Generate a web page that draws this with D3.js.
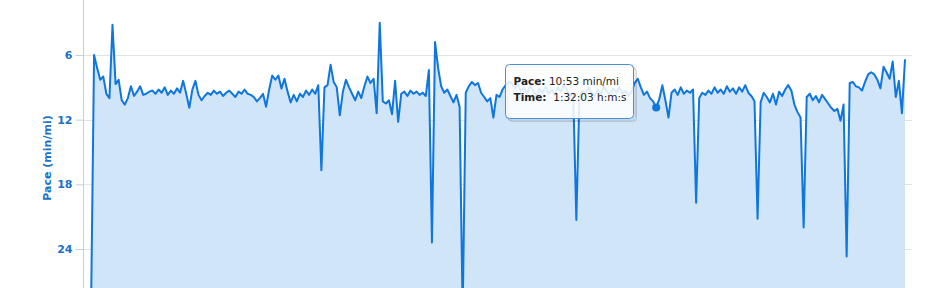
<!DOCTYPE html>
<html>
<head>
<meta charset="utf-8">
<script src="https://cdn.jsdelivr.net/npm/d3@7"></script>
<style>
    html, body { margin: 0; padding: 0; background: #fff; }
    svg { display: block; font-family: "DejaVu Sans", sans-serif; }
</style>
</head>
<body>
<div id="chart"></div>
<script>
// Pace samples (min/mi), one every 30 seconds from the start of the run
const sampleInterval = 30;
const paceValues = [
    30, 6.0, 7.2, 8.3, 8.0, 9.6, 10.0, 3.2, 8.7, 8.3,
    10.2, 10.6, 10.0, 8.9, 9.8, 9.4, 8.9, 9.7, 9.6, 9.4,
    9.3, 9.6, 9.2, 9.5, 9.0, 9.7, 9.3, 9.6, 9.1, 9.5,
    8.4, 9.6, 10.9, 9.2, 8.4, 9.7, 10.2, 9.8, 9.5, 9.7,
    9.3, 9.6, 9.4, 9.8, 9.5, 9.3, 9.6, 9.9, 9.4, 9.6,
    9.2, 9.6, 9.7, 9.9, 10.3, 10.0, 9.6, 10.8, 9.2, 7.9,
    8.3, 7.9, 9.1, 8.2, 9.4, 10.4, 9.7, 10.3, 9.6, 9.9,
    9.3, 9.7, 9.2, 9.6, 8.8, 16.7, 9.0, 8.8, 6.9, 8.5,
    9.0, 11.6, 9.4, 8.3, 9.0, 9.6, 10.2, 9.4, 10.0, 8.9,
    8.0, 8.6, 8.2, 11.4, 3.0, 10.3, 10.5, 10.2, 11.5, 8.4,
    12.2, 9.6, 9.4, 9.8, 9.3, 9.6, 9.4, 9.7, 9.5, 9.8,
    7.4, 23.4, 4.8, 7.2, 8.9, 9.5, 9.2, 9.8, 10.4, 9.7,
    10.8, 30, 9.5, 8.9, 8.5, 8.8, 8.6, 9.5, 9.9, 10.3,
    10.0, 11.8, 9.7, 9.9, 9.2, 8.8, 8.5, 8.6, 9.1, 8.7,
    9.4, 9.0, 9.6, 8.8, 9.3, 9.8, 9.1, 9.5, 8.9, 9.6,
    9.2, 9.7, 9.0, 9.4, 8.7, 9.3, 9.8, 9.6, 21.3, 9.9,
    9.3, 9.6, 9.0, 9.5, 9.8, 9.2, 9.6, 8.9, 9.4, 9.7,
    9.1, 9.5, 9.0, 9.6, 9.3, 9.8, 9.4, 8.6, 8.2, 9.0,
    9.7, 9.4, 10.0, 10.3, 10.88, 10.1, 8.8, 10.2, 11.8, 9.5,
    9.2, 9.7, 9.0, 9.6, 9.3, 9.5, 9.2, 19.7, 10.0, 9.5,
    9.7, 9.3, 9.6, 9.0, 9.5, 9.2, 9.6, 8.9, 9.4, 9.1,
    9.6, 9.0, 9.4, 8.8, 9.5, 9.8, 10.3, 21.2, 10.4, 9.5,
    9.9, 10.4, 9.6, 10.6, 9.4, 9.8, 9.2, 8.8, 9.3, 10.6,
    11.3, 11.8, 22.0, 9.9, 9.6, 10.2, 9.8, 10.4, 9.7, 10.1,
    10.5, 10.9, 11.2, 11.0, 12.1, 10.6, 24.7, 8.6, 8.5, 8.9,
    9.0, 9.3, 8.5, 7.8, 7.6, 7.8, 8.3, 9.1, 7.1, 7.6,
    8.2, 6.6, 9.9, 8.4, 11.4, 6.4
];
const yTicks = [6, 12, 18, 24];
const yTitle = "Pace (min/mi)";

// Hovered point shown in the tooltip
const hoverTime = 5523;
const tooltipRows = [
    { label: "Pace:", value: "10:53 min/mi" },
    { label: "Time:", value: " 1:32:03 h:m:s" }
];

const width = 939;
const height = 288;
const plot = { left: 83, right: 912, top: 0, bottom: 288 };

const data = paceValues.map((pace, i) => ({ time: i * sampleInterval, pace }));

const x = d3.scaleLinear()
    .domain(d3.extent(data, d => d.time))
    .range([91, 905]);

const y = d3.scaleLinear()
    .domain([6, 24])
    .range([55, 249]);

const svg = d3.select("#chart").append("svg")
    .attr("width", width)
    .attr("height", height);

svg.append("defs").append("clipPath")
    .attr("id", "plot-clip")
    .append("rect")
    .attr("x", plot.left)
    .attr("y", plot.top)
    .attr("width", plot.right - plot.left)
    .attr("height", plot.bottom - plot.top);

// Horizontal grid lines
svg.append("g")
    .selectAll("line")
    .data(yTicks)
    .enter()
    .append("line")
    .attr("x1", plot.left)
    .attr("x2", plot.right)
    .attr("y1", d => Math.round(y(d)) + 0.5)
    .attr("y2", d => Math.round(y(d)) + 0.5)
    .attr("stroke", "#e3e3e3")
    .attr("stroke-width", 1);

// Area + line
const chartLayer = svg.append("g").attr("clip-path", "url(#plot-clip)");

chartLayer.append("path")
    .datum(data)
    .attr("fill", "#cce3f7")
    .attr("fill-opacity", 0.92)
    .attr("d", d3.area()
        .x(d => x(d.time))
        .y0(y(30))
        .y1(d => y(d.pace)));

chartLayer.append("path")
    .datum(data)
    .attr("fill", "none")
    .attr("stroke", "#0f76dd")
    .attr("stroke-width", 2)
    .attr("stroke-linejoin", "round")
    .attr("d", d3.line()
        .x(d => x(d.time))
        .y(d => y(d.pace)));

// Y axis
const yAxis = svg.append("g")
    .attr("transform", `translate(${plot.left + 0.5},0)`)
    .call(d3.axisLeft(y).tickValues(yTicks).tickSize(8).tickPadding(3).tickFormat(d3.format("d")));

yAxis.select(".domain")
    .attr("d", `M0,${plot.top}V${plot.bottom}`)
    .attr("stroke", "#c4d0dc");

yAxis.selectAll(".tick line")
    .attr("stroke", "#c4d0dc");

yAxis.selectAll(".tick text")
    .attr("fill", "#1b70cc")
    .attr("font-size", 11)
    .attr("font-weight", "bold")
    .attr("font-family", "DejaVu Sans, sans-serif");

svg.append("text")
    .attr("transform", `translate(51,${(55 + 249) / 2 + 6}) rotate(-90)`)
    .attr("text-anchor", "middle")
    .attr("fill", "#1b70cc")
    .attr("font-size", 11)
    .attr("font-weight", "bold")
    .text(yTitle);

// Hover marker
const hovered = data[d3.bisector(d => d.time).center(data, hoverTime)];

svg.append("circle")
    .attr("cx", x(hovered.time))
    .attr("cy", y(hovered.pace))
    .attr("r", 4)
    .attr("fill", "#0f76dd");

// Tooltip
const tip = { x: 505.5, y: 64.5, w: 128, h: 54 };
const tooltip = svg.append("g");

[3, 2, 1].forEach(off => {
    tooltip.append("rect")
        .attr("x", tip.x + off)
        .attr("y", tip.y + off)
        .attr("width", tip.w)
        .attr("height", tip.h)
        .attr("rx", 4)
        .attr("fill", "none")
        .attr("stroke", "#000")
        .attr("stroke-opacity", 0.05 * off)
        .attr("stroke-width", 1);
});

tooltip.append("rect")
    .attr("x", tip.x)
    .attr("y", tip.y)
    .attr("width", tip.w)
    .attr("height", tip.h)
    .attr("rx", 4)
    .attr("fill", "rgba(255,255,255,0.86)")
    .attr("stroke", "#4a8fd6")
    .attr("stroke-width", 1);

const tipText = tooltip.append("text")
    .attr("font-size", 10.5)
    .attr("fill", "#222");

tooltipRows.forEach((row, i) => {
    const line = tipText.append("tspan")
        .attr("x", tip.x + 8)
        .attr("y", tip.y + 20 + i * 16);
    line.append("tspan").attr("font-weight", "bold").text(row.label);
    line.append("tspan").attr("xml:space", "preserve").text(" " + row.value);
});
</script>
</body>
</html>
